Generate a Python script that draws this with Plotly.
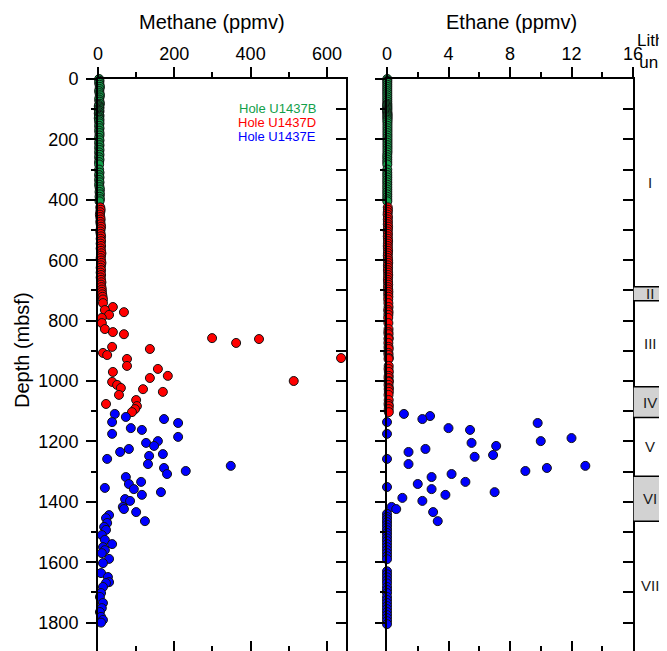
import plotly.graph_objects as go

# Hole U1437B (green)
depth_b = [0, 6, 12, 19, 26, 33, 40, 47, 54, 61, 68, 75, 82, 86, 90, 94, 98, 102, 106, 110,
           114, 118, 122, 126, 130, 135, 140, 147, 155, 163, 171, 179, 187, 195, 203, 211,
           219, 227, 235, 243, 251, 259, 267, 275, 283, 300, 310, 318, 326, 334, 342, 350,
           358, 366, 374, 382, 390, 398, 405]
ch4_b = [3, 4, 3, 4, 5, 4, 3, 4, 5, 4, 3, 4, 5, 3, 2, 4, 3, 2, 4, 3,
         2, 3, 4, 3, 2, 4, 3, 4, 3, 4, 3, 4, 4, 3, 4, 3,
         4, 3, 4, 3, 4, 3, 4, 3, 3, 3, 4, 3, 4, 3, 4, 3,
         4, 5, 4, 5, 4, 5, 4]
c2h6_b = [0.02] * 20 + [0.03] * 20 + [0.02] * 19

# Hole U1437D (red)
depth_d = [425, 433, 441, 449, 457, 465, 473, 481, 489, 497, 505, 513, 521, 529, 537, 545,
           553, 561, 569, 577, 585, 593, 601, 609, 617, 625, 633, 641, 649, 657, 665, 673,
           681, 689, 697, 705, 713, 721, 730,
           742, 755, 765, 772, 781, 791, 808, 828, 838, 845, 858, 861, 874, 887, 894, 907,
           914, 924, 927, 950, 960, 970, 983, 990, 1000, 1003, 1013, 1023, 1027, 1036, 1046,
           1063, 1076, 1083, 1093, 1103]
ch4_d = [6, 7, 6, 5, 6, 7, 6, 7, 8, 7, 6, 7, 8, 7, 8, 7,
         8, 7, 8, 9, 8, 7, 8, 9, 8, 7, 8, 7, 8, 7, 8, 9,
         8, 9, 10, 10, 11, 12, 13,
         13, 39, 18, 68, 29, 10, 10, 18, 39, 68, 299, 422, 362, 37, 136, 13,
         24, 637, 76, 76, 157, 39, 183, 136, 513, 37, 50, 60, 118, 170, 55,
         100, 21, 102, 97, 89]
c2h6_d = [0.05, 0.06, 0.05, 0.04, 0.06, 0.05, 0.06, 0.05, 0.07, 0.06, 0.05, 0.06, 0.05, 0.06, 0.07, 0.06,
          0.05, 0.06, 0.07, 0.06, 0.05, 0.06, 0.07, 0.08, 0.06, 0.07, 0.06, 0.07, 0.08, 0.07, 0.06, 0.07,
          0.08, 0.07, 0.08, 0.09, 0.08, 0.09, 0.08,
          0.09, 0.1, 0.08, 0.1, 0.09, 0.08, 0.09, 0.1, 0.09, 0.1, 0.11, 0.1, 0.09, 0.1, 0.11, 0.09,
          0.1, 0.12, 0.1, 0.11, 0.1, 0.12, 0.11, 0.1, 0.12, 0.11, 0.1, 0.12, 0.11, 0.12, 0.1,
          0.11, 0.1, 0.12, 0.11, 0.12]

# Hole U1437E (blue) - methane
depth_e = [1109, 1119, 1126, 1136, 1139, 1156, 1162, 1175, 1185, 1199, 1205, 1215, 1225, 1235,
           1242, 1248, 1258, 1275, 1281, 1288, 1298, 1308, 1318, 1334, 1341, 1354, 1358, 1368,
           1377, 1391, 1397, 1417, 1424, 1434, 1444, 1454, 1464, 1470, 1483, 1493, 1510, 1526,
           1540, 1550, 1560, 1570, 1589, 1603, 1636, 1649, 1666, 1669, 1682, 1702, 1715, 1735,
           1752, 1765, 1781, 1791, 1800]
ch4_e = [44, 73, 173, 37, 210, 86, 115, 37, 210, 157, 126, 147, 81, 58,
         170, 134, 24, 131, 348, 173, 230, 181, 73, 113, 81, 18, 94, 165,
         115, 71, 84, 65, 68, 100, 29, 21, 123, 24, 16, 21, 10, 18,
         37, 13, 18, 10, 29, 13, 8, 26, 29, 21, 13, 8, 5, 13,
         10, 5, 8, 13, 8]

# Hole U1437E (blue) - ethane
depth_e2 = [1109, 1116, 1126, 1136, 1139, 1156, 1162, 1175, 1189, 1199, 1205, 1215, 1225, 1235,
            1245, 1251, 1258, 1275, 1281, 1288, 1298, 1308, 1318, 1334, 1341, 1351, 1358, 1368,
            1377, 1387, 1397, 1417, 1424, 1434, 1440, 1450, 1458, 1464, 1467, 1476, 1485, 1494,
            1503, 1512, 1521, 1530, 1540, 1550, 1560, 1570, 1580, 1590, 1630, 1640, 1650, 1660,
            1670, 1682, 1692, 1702, 1715, 1725, 1735, 1745, 1755, 1765, 1775, 1785, 1795, 1805]
c2h6_e = [1.1, 2.8, 2.3, 0, 9.8, 4.0, 5.4, 0, 12.0, 10.0, 5.5, 7.1, 2.5, 1.4,
          6.9, 5.7, 0, 1.4, 12.9, 10.4, 9.0, 4.2, 2.9, 5.1, 2.0, 0, 2.9, 7.0,
          3.8, 1.0, 2.3, 0.3, 0.6, 3.0, 0, 0, 0, 3.3, 0, 0, 0, 0,
          0, 0, 0, 0, 0, 0, 0, 0, 0, 0, 0, 0, 0, 0,
          0, 0, 0, 0, 0, 0, 0, 0, 0, 0, 0, 0, 0, 0]

# lithologic units
unit_names = ["I", "II", "III", "IV", "V", "VI", "VII"]
unit_top = [0, 688, 734, 1019, 1121, 1315, 1464]
unit_bottom = [688, 734, 1019, 1121, 1315, 1464, 1890]
unit_shaded = [False, True, False, True, False, True, False]

GREEN = "#12a04a"
RED = "#ff0000"
BLUE = "#0000ff"
FONT = "Liberation Sans, Arial, sans-serif"
YR = [1894, 0]
OFF = 8  # page body margin
W, H = 667 - OFF, 651 - OFF
TOP = 79 - OFF


def px_x(p):
    return (p - OFF) / W


def px_y(p):
    return (651 - p) / (H - TOP)


def mk(color):
    return dict(size=9, color=color, line=dict(width=1, color="#111"))


fig = go.Figure()
for d, v, c, n in [(depth_b, ch4_b, GREEN, "Hole U1437B"), (depth_d, ch4_d, RED, "Hole U1437D"),
                   (depth_e, ch4_e, BLUE, "Hole U1437E")]:
    fig.add_trace(go.Scatter(x=v, y=d, mode="markers", marker=mk(c), name=n,
                             xaxis="x", yaxis="y", cliponaxis=False, showlegend=False))
for d, v, c, n in [(depth_b, c2h6_b, GREEN, "Hole U1437B"), (depth_d, c2h6_d, RED, "Hole U1437D"),
                   (depth_e2, c2h6_e, BLUE, "Hole U1437E")]:
    fig.add_trace(go.Scatter(x=v, y=d, mode="markers", marker=mk(c), name=n,
                             xaxis="x2", yaxis="y2", cliponaxis=False, showlegend=False))
# empty traces so the mirror-style overlay axes get drawn
for xa, ya in [("x4", "y"), ("x", "y4"), ("x5", "y2"), ("x2", "y5")]:
    fig.add_trace(go.Scatter(x=[None], y=[None], xaxis=xa, yaxis=ya, mode="markers",
                             showlegend=False, hoverinfo="skip"))

tickfont = dict(family=FONT, size=18, color="black")
base = dict(showgrid=False, zeroline=False, showline=True, linecolor="black", linewidth=2,
            tickcolor="black", tickwidth=1.5, automargin=False, tickfont=tickfont)
minor_out = dict(ticklen=5, ticks="outside", tickcolor="black", tickwidth=1.5)
minor_in = dict(ticklen=5, ticks="inside", tickcolor="black", tickwidth=1.5)

fig.update_layout(
    width=W, height=H, margin=dict(l=0, r=0, t=TOP, b=0),
    paper_bgcolor="white", plot_bgcolor="rgba(0,0,0,0)", template="none",
    font=dict(family=FONT, size=18, color="black"),
    showlegend=False,
    # methane
    xaxis=dict(base, domain=[px_x(98), px_x(346)], range=[0, 650], side="top", anchor="y",
               ticks="outside", ticklen=10, tick0=0, dtick=200, minor=dict(minor_out, dtick=100)),
    yaxis=dict(base, domain=[0, 1], range=YR, anchor="x", ticks="outside", ticklen=10,
               tick0=0, dtick=200, ticklabelstandoff=4, minor=dict(minor_out, dtick=100)),
    xaxis4=dict(base, overlaying="x", anchor="y", side="bottom", range=[0, 650], showline=False,
                ticks="inside", ticklen=10, tick0=0, dtick=200, showticklabels=False,
                minor=dict(minor_in, dtick=100)),
    yaxis4=dict(base, overlaying="y", anchor="x", side="right", range=YR, ticks="inside",
                ticklen=10, tick0=0, dtick=100, showticklabels=False),
    # ethane
    xaxis2=dict(base, domain=[px_x(387), px_x(633)], range=[0, 16], side="top", anchor="y2",
                ticks="outside", ticklen=10, tick0=0, dtick=4, minor=dict(minor_out, dtick=2)),
    yaxis2=dict(base, domain=[0, 1], range=YR, anchor="x2", ticks="outside", ticklen=10,
                tick0=0, dtick=200, showticklabels=False, minor=dict(minor_out, dtick=100)),
    xaxis5=dict(base, overlaying="x2", anchor="y2", side="bottom", range=[0, 16], showline=False,
                ticks="inside", ticklen=10, tick0=0, dtick=4, showticklabels=False,
                minor=dict(minor_in, dtick=2)),
    yaxis5=dict(base, overlaying="y2", anchor="x2", side="right", range=YR, ticks="inside",
                ticklen=10, tick0=0, dtick=100, showticklabels=False),
    # lithology column
    xaxis3=dict(domain=[px_x(633), 1], range=[0, 1], visible=False, anchor="y3"),
    yaxis3=dict(domain=[0, 1], range=YR, visible=False, anchor="x3"),
)

for name, top, bot, shade in zip(unit_names, unit_top, unit_bottom, unit_shaded):
    if shade:
        fig.add_shape(type="rect", xref="x3", yref="y3", x0=0, x1=1.3, y0=top, y1=bot,
                      fillcolor="#d2d2d2", line=dict(color="black", width=1.5), layer="below")
    fig.add_annotation(x=0.5, y=(top + bot) / 2, xref="x3", yref="y3", text=name,
                       showarrow=False, font=dict(size=15, color="#1a1a1a"))

ann = [
    ("Methane (ppmv)", 212, 22, 20, "black", "center", 0),
    ("Ethane (ppmv)", 511, 22, 20, "black", "center", 0),
    ("Lith.<br>unit", 653, 51, 17, "black", "center", 0),
    ("Depth (mbsf)", 22, 350, 20, "black", "center", -90),
    ("Hole U1437B", 318, 108, 13, GREEN, "right", 0),
    ("Hole U1437D", 318, 122, 13, RED, "right", 0),
    ("Hole U1437E", 318, 136, 13, BLUE, "right", 0),
]
for text, x, y, size, color, xa, ang in ann:
    fig.add_annotation(x=px_x(x), y=px_y(y), xref="paper", yref="paper", text=text,
                       showarrow=False, xanchor=xa, yanchor="middle", textangle=ang,
                       font=dict(size=size, color=color))

fig.write_html("out.html")
